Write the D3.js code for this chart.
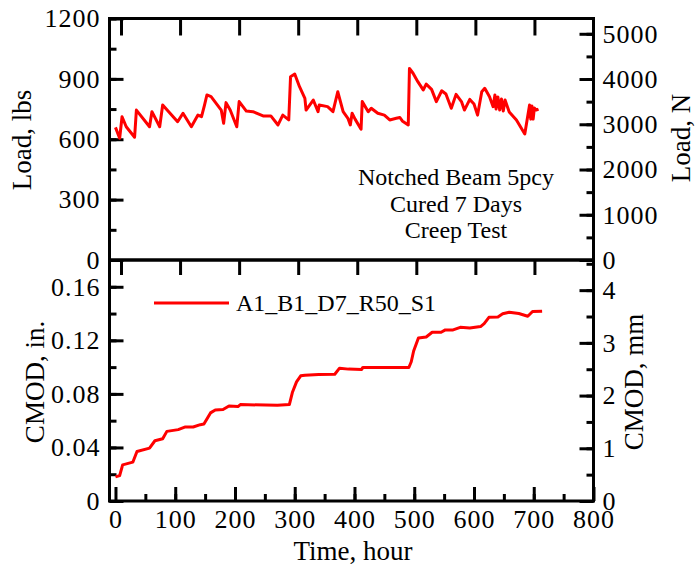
<!DOCTYPE html>
<html>
<head>
<meta charset="utf-8">
<script src="https://cdn.jsdelivr.net/npm/d3@7"></script>
<style>
  body { margin: 0; background: #fff; }
  svg text { font-family: "Liberation Serif", "Times New Roman", serif; fill: #000; }
</style>
</head>
<body>
<svg id="chart" width="697" height="571"></svg>
<script>
// load vs time (lbs)
const loadTime = [0, 7, 11, 18, 32, 35, 57, 61, 74, 79, 104, 113, 127, 138, 144, 149, 153, 160, 177, 181, 185, 192, 203, 207,
  219, 230, 247, 260, 272, 280, 290, 293, 300, 308, 317, 319, 331, 339, 341, 355, 364, 372, 381, 389, 393, 396, 401, 411,
  413, 423, 428, 439, 450, 459, 470, 476, 480, 490, 492, 498, 506, 515, 520, 529, 537, 546, 553, 562, 570, 579, 584, 593,
  600, 606, 613, 618, 626, 632, 635, 637, 640, 643, 646, 649, 652, 659, 671, 685, 693, 695, 697, 699, 701, 704, 708];
const loadLbs = [659, 605, 712, 662, 610, 745, 662, 737, 662, 770, 687, 729, 662, 720, 712, 770, 820, 812, 745, 679, 782, 745, 662, 787,
  740, 737, 716, 716, 671, 720, 696, 911, 924, 861, 803, 745, 795, 737, 770, 762, 737, 836, 737, 704, 671, 729, 700, 650,
  787, 737, 754, 729, 720, 696, 704, 708, 691, 671, 952, 928, 886, 845, 874, 848, 787, 841, 825, 754, 823, 787, 745, 798,
  775, 720, 836, 853, 811, 762, 820, 750, 810, 745, 800, 740, 795, 735, 696, 626, 770, 700, 765, 700, 755, 745, 750];

// CMOD vs time (in.)
const cmodTime = [0, 7, 12, 29, 36, 57, 66, 79, 86, 105, 117, 130, 142, 148, 159, 167, 180, 190, 205, 209, 271, 291, 296, 303,
  310, 317, 340, 367, 375, 390, 412, 414, 491, 495, 499, 507, 520, 530, 545, 552, 565, 577, 593, 611, 617, 625, 640, 648,
  659, 675, 690, 698, 714];
const cmodIn = [0.018, 0.019, 0.027, 0.029, 0.037, 0.0395, 0.045, 0.0465, 0.052, 0.0533, 0.0553, 0.0553, 0.057, 0.0575, 0.0658, 0.068, 0.0683, 0.071, 0.0705, 0.072, 0.0715, 0.072, 0.081, 0.089,
  0.0935, 0.094, 0.0945, 0.0947, 0.0992, 0.0985, 0.0983, 0.0998, 0.0997, 0.104, 0.112, 0.1218, 0.1225, 0.126, 0.126, 0.1278, 0.1278, 0.1297, 0.1292, 0.1303, 0.1325, 0.1372, 0.1375, 0.1398,
  0.141, 0.14, 0.138, 0.1415, 0.1418];

const timeTicks = [0, 100, 200, 300, 400, 500, 600, 700, 800];
const lbsTicks = [0, 300, 600, 900, 1200];
const newtonTicks = [0, 1000, 2000, 3000, 4000, 5000];
const inchTicks = [0, 0.04, 0.08, 0.12, 0.16];
const mmTicks = [0, 1, 2, 3, 4];
const seriesName = "A1_B1_D7_R50_S1";
const noteLines = ["Notched Beam 5pcy", "Cured 7 Days", "Creep Test"];

const svg = d3.select("#chart");
const left = 109.5, right = 593.5, top1 = 18.5, mid = 260, bottom = 501;
const red = "#ff0000";

const x = d3.scaleLinear().domain([-10, 800]).range([left, right]);
const xTop = d3.scaleLinear().domain([0, 800]).range([121, right]);
const yLoad = d3.scaleLinear().domain([0, 1200]).range([mid, top1]);
const yN = d3.scaleLinear().domain([0, 1200 * 4.44822]).range([mid, top1]);
const yCmod = d3.scaleLinear().domain([0, 0.18]).range([bottom, mid]);
const yMm = d3.scaleLinear().domain([0, 0.18 * 25.4]).range([bottom, mid]);

function styleAxis(g, size) {
  g.select(".domain").remove();
  g.selectAll(".tick line").attr("stroke", "#000").attr("stroke-width", 3);
  g.selectAll("text").attr("font-size", size).attr("fill", "#000").style("letter-spacing", "1px");
}
function minor(axisFn, scale, step, lo, hi) {
  return axisFn(scale).tickValues(d3.range(lo, hi + step / 2, step)).tickSize(-7).tickFormat("");
}
const fmtInt = d3.format("d");

// top panel axes
svg.append("g").attr("transform", `translate(${left},0)`)
  .call(minor(d3.axisLeft, yLoad, 150, 0, 1200)).call(styleAxis, 26);
svg.append("g").attr("transform", `translate(${left},0)`)
  .call(d3.axisLeft(yLoad).tickValues(lbsTicks).tickSize(-14).tickPadding(9).tickFormat(fmtInt)).call(styleAxis, 26);
svg.append("g").attr("transform", `translate(${right},0)`)
  .call(minor(d3.axisRight, yN, 500, 0, 5000)).call(styleAxis, 26);
svg.append("g").attr("transform", `translate(${right},0)`)
  .call(d3.axisRight(yN).tickValues(newtonTicks).tickSize(-14).tickPadding(9).tickFormat(fmtInt)).call(styleAxis, 26);
svg.append("g").attr("transform", `translate(0,${top1})`)
  .call(d3.axisTop(xTop).tickValues(timeTicks.slice(0, 8)).tickSize(-17).tickFormat("")).call(styleAxis, 26);

// bottom panel axes
svg.append("g").attr("transform", `translate(${left},0)`)
  .call(minor(d3.axisLeft, yCmod, 0.02, 0, 0.16)).call(styleAxis, 26);
svg.append("g").attr("transform", `translate(${left},0)`)
  .call(d3.axisLeft(yCmod).tickValues(inchTicks).tickSize(-14).tickPadding(9)
    .tickFormat(d => d === 0 ? "0" : d3.format(".2f")(d))).call(styleAxis, 26);
svg.append("g").attr("transform", `translate(${right},0)`)
  .call(minor(d3.axisRight, yMm, 0.5, 0, 4.5)).call(styleAxis, 26);
svg.append("g").attr("transform", `translate(${right},0)`)
  .call(d3.axisRight(yMm).tickValues(mmTicks).tickSize(-14).tickPadding(9).tickFormat(fmtInt)).call(styleAxis, 26);
svg.append("g").attr("transform", `translate(0,${mid})`)
  .call(d3.axisTop(xTop).tickValues(timeTicks.slice(0, 8)).tickSize(-15).tickFormat("")).call(styleAxis, 26);
svg.append("g").attr("transform", `translate(0,${bottom})`)
  .call(minor(d3.axisBottom, x, 50, 50, 750)).call(styleAxis, 26);
svg.append("g").attr("transform", `translate(0,${bottom})`)
  .call(d3.axisBottom(x).tickValues(timeTicks).tickSize(-14).tickPadding(9).tickFormat(fmtInt)).call(styleAxis, 26);

// frames
svg.append("rect").attr("x", left).attr("y", top1).attr("width", right - left).attr("height", mid - top1)
  .attr("fill", "none").attr("stroke", "#000").attr("stroke-width", 3);
svg.append("rect").attr("x", left).attr("y", mid).attr("width", right - left).attr("height", bottom - mid)
  .attr("fill", "none").attr("stroke", "#000").attr("stroke-width", 3);

// lines
const loadLine = d3.line().x((d, i) => x(loadTime[i])).y(d => yLoad(d));
svg.append("path").datum(loadLbs).attr("d", loadLine)
  .attr("fill", "none").attr("stroke", red).attr("stroke-width", 3).attr("stroke-linejoin", "round");
const cmodLine = d3.line().x((d, i) => x(cmodTime[i])).y(d => yCmod(d));
svg.append("path").datum(cmodIn).attr("d", cmodLine)
  .attr("fill", "none").attr("stroke", red).attr("stroke-width", 3).attr("stroke-linejoin", "round");

// legend
svg.append("line").attr("x1", 154).attr("x2", 229).attr("y1", 303).attr("y2", 303)
  .attr("stroke", red).attr("stroke-width", 3);
svg.append("text").attr("x", 236).attr("y", 311).attr("font-size", 24).text(seriesName);

// note
svg.append("g").selectAll("text").data(noteLines).join("text")
  .attr("x", 456).attr("y", (d, i) => 185 + i * 26.5)
  .attr("text-anchor", "middle").attr("font-size", 24).text(d => d);

// axis titles
function vtitle(cx, cy, txt) {
  svg.append("text").attr("transform", `translate(${cx},${cy}) rotate(-90)`)
    .attr("text-anchor", "middle").attr("font-size", 27).text(txt);
}
vtitle(31, 140, "Load, lbs");
vtitle(690, 138, "Load, N");
vtitle(44, 382, "CMOD, in.");
vtitle(643, 382, "CMOD, mm");
svg.append("text").attr("x", 353).attr("y", 560).attr("text-anchor", "middle")
  .attr("font-size", 27).text("Time, hour");
</script>
</body>
</html>
